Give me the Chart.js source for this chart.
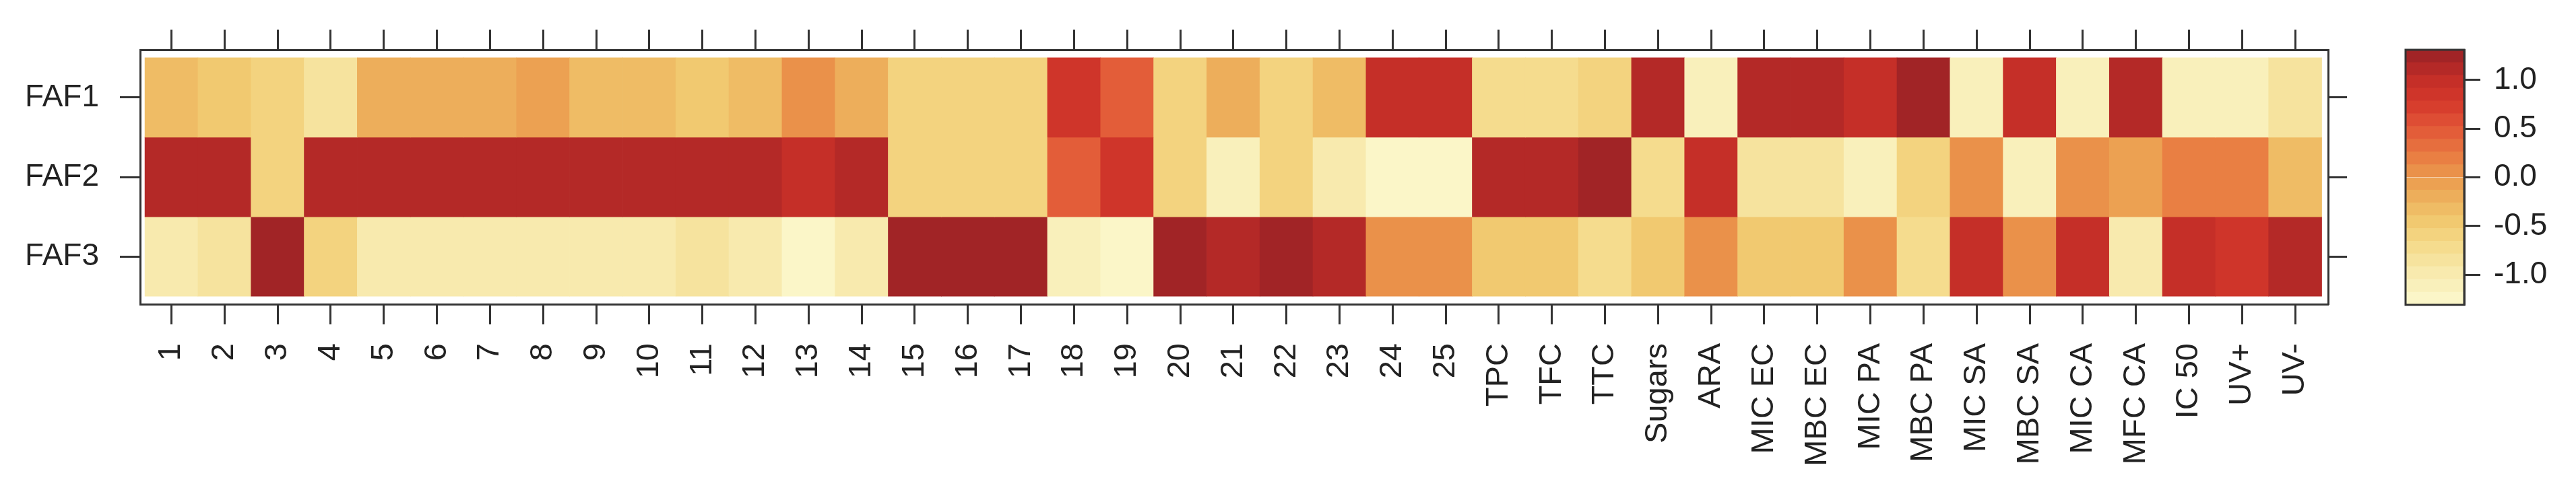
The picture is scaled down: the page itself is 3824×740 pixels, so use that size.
<!DOCTYPE html>
<html>
<head>
<meta charset="utf-8">
<script src="https://cdn.jsdelivr.net/npm/chart.js@4.4.1/dist/chart.umd.min.js"></script>
<style>
  body { margin: 0; background: #fff; overflow: hidden; }
  #heat { position: absolute; left: 0; top: 0; }
  #key { position: absolute; left: 3540px; top: 0; }
</style>
</head>
<body>
<canvas id="heat" width="3540" height="740"></canvas>
<canvas id="key" width="284" height="740"></canvas>
<script>
// heatmap data
const rowNames = ['FAF1', 'FAF2', 'FAF3'];
const colLabels = ['1','2','3','4','5','6','7','8','9','10','11','12','13','14','15','16','17',
  '18','19','20','21','22','23','24','25','TPC','TFC','TTC','Sugars','ARA',
  'MIC EC','MBC EC','MIC PA','MBC PA','MIC SA','MBC SA','MIC CA','MFC CA','IC 50','UV+','UV-'];

const faf1 = [-0.3,-0.45,-0.6,-0.8,-0.25,-0.15,-0.25,-0.1,-0.28,-0.28,-0.45,-0.3,0.05,-0.25,
  -0.6,-0.6,-0.6,0.8,0.4,-0.6,-0.15,-0.6,-0.3,0.95,0.95,
  -0.78,-0.78,-0.65,1.1,-1.1,
  1.1,1.1,0.95,1.27,-1.1,0.95,-1.1,1.1,-1.05,-1.05,-0.85];
const faf2 = [1.1,1.1,-0.6,1.1,1.1,1.1,1.1,1.1,1.1,1.1,1.1,1.08,0.92,1.08,
  -0.6,-0.6,-0.6,0.4,0.8,-0.6,-1.05,-0.58,-1.0,-1.2,-1.2,
  1.08,1.08,1.25,-0.7,0.95,
  -0.9,-0.9,-1.15,-0.62,0.0,-1.15,0.1,-0.02,0.15,0.15,-0.28];
const faf3 = [-1.0,-0.85,1.25,-0.6,-1.0,-1.0,-1.0,-1.0,-1.0,-1.0,-0.85,-1.0,-1.2,-1.0,
  1.22,1.22,1.22,-1.1,-1.25,1.22,1.08,1.28,1.12,0.05,0.05,
  -0.5,-0.5,-0.7,-0.45,0.1,
  -0.4,-0.4,0.05,-0.7,0.98,0.05,0.98,-1.0,0.95,0.82,1.1];

const keyTicks = [-1.0, -0.5, 0.0, 0.5, 1.0];
const keyMin = -1.31, keyMax = 1.31, keyBands = 20;

// colour ramp, pale yellow -> dark red
const stopVals = [-1.31, -1.0, -0.75, -0.5, -0.25, 0, 0.25, 0.5, 0.75, 1.0, 1.31];
const stopCols = [[252,249,206],[248,235,176],[245,222,146],[242,205,116],[238,180,94],
  [235,154,78],[232,120,64],[226,88,56],[214,58,44],[196,46,40],[152,33,38]];

function ramp(v) {
  let i = 0;
  while (i < stopVals.length - 2 && v > stopVals[i + 1]) i++;
  let t = (v - stopVals[i]) / (stopVals[i + 1] - stopVals[i]);
  t = Math.max(0, Math.min(1, t));
  const a = stopCols[i], b = stopCols[i + 1];
  return 'rgb(' + a.map((c, k) => Math.round(c + (b[k] - c) * t)).join(',') + ')';
}
const step = (keyMax - keyMin) / keyBands;
function bandColor(v) {
  let k = Math.floor((v - keyMin) / step);
  k = Math.max(0, Math.min(keyBands - 1, k));
  return ramp(keyMin + (k + 0.5) * step);
}

Chart.defaults.font.family = '"Liberation Sans", Arial, sans-serif';
Chart.defaults.font.size = 46;
Chart.defaults.color = '#222';

const rows = [faf1, faf2, faf3];
const datasets = rows.map((vals, r) => {
  const lo = rows.length - 1 - r;
  return {
    label: rowNames[r],
    data: vals.map((v, i) => ({ x: i, y: [lo, lo + 1] })),
    backgroundColor: vals.map(bandColor),
    borderWidth: 0,
    grouped: false,
    barPercentage: 1,
    categoryPercentage: 1
  };
});

const axisColor = '#333';
const colTicks = (s) => { s.ticks = colLabels.map((_, i) => ({ value: i })); };
const rowTicks = (s) => { s.ticks = rowNames.map((_, r) => ({ value: rowNames.length - 1 - r + 0.5 })); };
const rowLabel = (v) => rowNames[rowNames.length - 1 - Math.floor(v)];

new Chart(document.getElementById('heat'), {
  type: 'bar',
  data: { datasets: datasets },
  options: {
    responsive: false,
    animation: false,
    layout: { padding: 0 },
    plugins: { legend: { display: false }, tooltip: { enabled: false } },
    scales: {
      x: {
        type: 'linear', position: 'bottom', min: -0.59, max: 40.62, offset: false,
        afterBuildTicks: colTicks,
        afterFit: (s) => { s.height = 288; },
        grid: { drawOnChartArea: false, offset: false, tickLength: 30, tickWidth: 3, tickColor: axisColor },
        border: { display: true, color: axisColor, width: 3 },
        ticks: { autoSkip: false, maxRotation: 90, minRotation: 90, padding: 28, font: { size: 47 },
          callback: (v) => colLabels[v] }
      },
      x2: {
        type: 'linear', position: 'top', min: -0.59, max: 40.62, offset: false,
        afterBuildTicks: colTicks,
        afterFit: (s) => { s.height = 74; },
        grid: { drawOnChartArea: false, offset: false, tickLength: 30, tickWidth: 3, tickColor: axisColor },
        border: { display: true, color: axisColor, width: 3 },
        ticks: { display: false }
      },
      y: {
        type: 'linear', position: 'left', min: -0.1, max: 3.1,
        afterBuildTicks: rowTicks,
        afterFit: (s) => { s.width = 208; },
        grid: { drawOnChartArea: false, tickLength: 30, tickWidth: 3, tickColor: axisColor },
        border: { display: true, color: axisColor, width: 3 },
        ticks: { padding: 31, callback: rowLabel }
      },
      y2: {
        type: 'linear', position: 'right', min: -0.1, max: 3.1,
        afterBuildTicks: rowTicks,
        afterFit: (s) => { s.width = 84; },
        grid: { drawOnChartArea: false, tickLength: 28, tickWidth: 3, tickColor: axisColor },
        border: { display: true, color: axisColor, width: 3 },
        ticks: { display: false }
      }
    }
  }
});

// colour key
const bandSets = [];
for (let k = 0; k < keyBands; k++) {
  const lo = keyMin + k * step;
  bandSets.push({
    data: [[lo, lo + step]],
    backgroundColor: ramp(lo + step / 2),
    borderWidth: 0,
    grouped: false,
    barPercentage: 1,
    categoryPercentage: 1
  });
}

const frame = {
  id: 'frame',
  afterDatasetsDraw(chart) {
    const a = chart.chartArea, ctx = chart.ctx;
    ctx.save();
    ctx.strokeStyle = axisColor;
    ctx.lineWidth = 3;
    ctx.strokeRect(a.left, a.top, a.right - a.left, a.bottom - a.top);
    ctx.restore();
  }
};

new Chart(document.getElementById('key'), {
  type: 'bar',
  data: { labels: [''], datasets: bandSets },
  options: {
    responsive: false,
    animation: false,
    layout: { padding: { left: 31, top: 74, bottom: 287, right: 0 } },
    plugins: { legend: { display: false }, tooltip: { enabled: false } },
    scales: {
      x: { display: false },
      y: {
        position: 'right', min: keyMin, max: keyMax,
        afterBuildTicks: (s) => { s.ticks = keyTicks.map(v => ({ value: v })); },
        afterFit: (s) => { s.width = 166; },
        grid: { drawOnChartArea: false, tickLength: 24, tickWidth: 3, tickColor: axisColor },
        border: { display: true, color: axisColor, width: 3 },
        ticks: { padding: 20, callback: (v) => v.toFixed(1) }
      }
    }
  },
  plugins: [frame]
});
</script>
</body>
</html>
